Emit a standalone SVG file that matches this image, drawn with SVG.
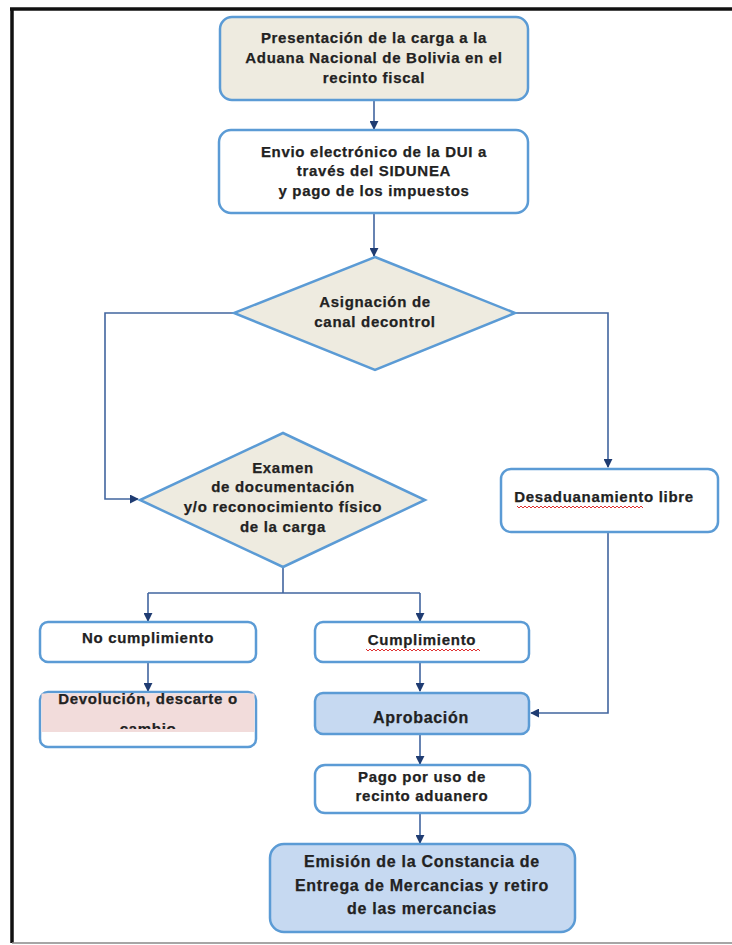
<svg xmlns="http://www.w3.org/2000/svg" width="732" height="945" viewBox="0 0 732 945">
<defs>
<style>
.box{stroke:#5b9bd5;stroke-width:2.5}
.w{fill:#ffffff}
.b{fill:#eeebe0}
.blue{fill:#c6d9f1}
.t{font-family:"Liberation Sans",Arial,sans-serif;font-weight:bold;font-size:15px;letter-spacing:0.7px;fill:#222222;stroke:#222222;stroke-width:0.25;text-anchor:middle}
.big{font-size:16px}
.c{fill:none;stroke:#41659f;stroke-width:1.6}
.sq{fill:none;stroke:#e03030;stroke-width:1}
</style>
<marker id="ah" viewBox="0 0 10 10" refX="9" refY="5" markerWidth="9" markerHeight="9" markerUnits="userSpaceOnUse" orient="auto">
<path d="M0,0 L10,5 L0,10 z" fill="#1f3c72"/>
</marker>
<clipPath id="clipDev"><rect x="38" y="690" width="220" height="39"/></clipPath>
</defs>
<rect x="0" y="0" width="732" height="945" fill="#ffffff"/>
<!-- outer frame -->
<line x1="10" y1="9" x2="732" y2="9" stroke="#111" stroke-width="3.5"/>
<line x1="12" y1="8" x2="12" y2="943" stroke="#111" stroke-width="3.5"/>
<line x1="12" y1="943" x2="732" y2="943" stroke="#888" stroke-width="1.5"/>

<g id="connectors">
<path class="c" d="M374,100 V129" marker-end="url(#ah)"/>
<path class="c" d="M374,213 V256" marker-end="url(#ah)"/>
<path class="c" d="M234,313 H105 V499 H138" marker-end="url(#ah)"/>
<path class="c" d="M515,313 H608 V467" marker-end="url(#ah)"/>
<path class="c" d="M283,567 V593"/>
<path class="c" d="M148,593 H420"/>
<path class="c" d="M148,593 V621" marker-end="url(#ah)"/>
<path class="c" d="M420,593 V621" marker-end="url(#ah)"/>
<path class="c" d="M148,662 V691" marker-end="url(#ah)"/>
<path class="c" d="M420,662 V691" marker-end="url(#ah)"/>
<path class="c" d="M608,533 V713 H531" marker-end="url(#ah)"/>
<path class="c" d="M420,735 V764" marker-end="url(#ah)"/>
<path class="c" d="M420,813 V843" marker-end="url(#ah)"/>
</g>

<g id="n1">
<rect class="box b" x="220" y="17" width="308" height="83" rx="12"/>
<text class="t" x="374" y="43">Presentación de la carga a la</text>
<text class="t" x="374" y="63">Aduana Nacional de Bolivia en el</text>
<text class="t" x="374" y="83">recinto fiscal</text>
</g>

<g id="n2">
<rect class="box w" x="219" y="130" width="309" height="83" rx="12"/>
<text class="t" x="374" y="157">Envio electrónico de la DUI a</text>
<text class="t" x="374" y="176">través del  SIDUNEA</text>
<text class="t" x="374" y="196">y pago de los impuestos</text>
</g>

<g id="n3">
<polygon class="box b" points="375,257 515,313 375,370 234,313"/>
<text class="t" x="375" y="307">Asignación de</text>
<text class="t" x="375" y="327">canal decontrol</text>
</g>

<g id="n4">
<polygon class="box b" points="283,433 425,500 283,567 140,500"/>
<text class="t" x="283" y="473">Examen</text>
<text class="t" x="283" y="492">de documentación</text>
<text class="t" x="283" y="512">y/o reconocimiento físico</text>
<text class="t" x="283" y="532">de la carga</text>
</g>

<g id="n5">
<rect class="box w" x="501" y="469" width="217" height="63" rx="10"/>
<text class="t" x="604" y="502">Desaduanamiento libre</text>
<path class="sq" d="M517,506 l2,2 l2,-2 l2,2 l2,-2 l2,2 l2,-2 l2,2 l2,-2 l2,2 l2,-2 l2,2 l2,-2 l2,2 l2,-2 l2,2 l2,-2 l2,2 l2,-2 l2,2 l2,-2 l2,2 l2,-2 l2,2 l2,-2 l2,2 l2,-2 l2,2 l2,-2 l2,2 l2,-2 l2,2 l2,-2 l2,2 l2,-2 l2,2 l2,-2 l2,2 l2,-2 l2,2 l2,-2 l2,2 l2,-2 l2,2 l2,-2 l2,2 l2,-2 l2,2 l2,-2 l2,2 l2,-2 l2,2 l2,-2 l2,2 l2,-2 l2,2 l2,-2 l2,2 l2,-2 l2,2 l2,-2 l2,2 l2,-2 l2,2"/>
</g>

<g id="n6">
<rect class="box w" x="40" y="622" width="216" height="40" rx="8"/>
<text class="t" x="148" y="643">No cumplimiento</text>
</g>

<g id="n7">
<rect class="box w" x="315" y="622" width="214" height="40" rx="8"/>
<text class="t" x="422" y="645">Cumplimiento</text>
<path class="sq" d="M366,649 l2,2 l2,-2 l2,2 l2,-2 l2,2 l2,-2 l2,2 l2,-2 l2,2 l2,-2 l2,2 l2,-2 l2,2 l2,-2 l2,2 l2,-2 l2,2 l2,-2 l2,2 l2,-2 l2,2 l2,-2 l2,2 l2,-2 l2,2 l2,-2 l2,2 l2,-2 l2,2 l2,-2 l2,2 l2,-2 l2,2 l2,-2 l2,2 l2,-2 l2,2 l2,-2 l2,2 l2,-2 l2,2 l2,-2 l2,2 l2,-2 l2,2 l2,-2 l2,2 l2,-2 l2,2 l2,-2 l2,2 l2,-2 l2,2 l2,-2 l2,2 l2,-2 l2,2"/>
</g>

<g id="n8">
<rect class="box w" x="40" y="692" width="216" height="55" rx="8"/>
<rect x="41.5" y="693.5" width="213" height="38.5" fill="#f2dcdb"/>
<g clip-path="url(#clipDev)">
<text class="t" x="148" y="704">Devolución, descarte o</text>
<text class="t" x="148" y="734">cambio</text>
</g>
</g>

<g id="n9">
<rect class="box blue" x="315" y="693" width="214" height="41" rx="8"/>
<text class="t big" x="421" y="723">Aprobación</text>
</g>

<g id="n10">
<rect class="box w" x="315" y="765" width="215" height="48" rx="10"/>
<text class="t" x="422" y="782">Pago por uso de</text>
<text class="t" x="422" y="801">recinto aduanero</text>
</g>

<g id="n11">
<rect class="box blue" x="270" y="844" width="305" height="88" rx="14"/>
<text class="t big" x="422" y="867">Emisión de la Constancia de</text>
<text class="t big" x="422" y="891">Entrega de Mercancias y retiro</text>
<text class="t big" x="422" y="914">de las mercancias</text>
</g>
</svg>
